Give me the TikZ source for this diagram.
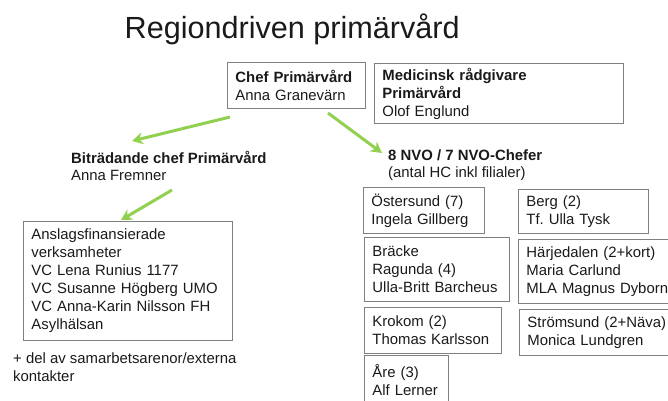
\documentclass[tikz,border=0pt]{standalone}
\usepackage{fontspec}
\setmainfont{Liberation Sans}
\usetikzlibrary{arrows.meta}
\definecolor{arrgreen}{HTML}{92D050}
\definecolor{boxgray}{HTML}{808080}
\definecolor{txtcol}{HTML}{1A1A1A}
\frenchspacing
\begin{document}
\begin{tikzpicture}[x=1pt,y=-1pt,
  txt/.style={font=\fontsize{14.9}{18}\selectfont, inner sep=0pt, anchor=base west, text=txtcol},
  orgbox/.style={draw=boxgray, line width=0.9pt, anchor=north west, inner xsep=8pt, inner ysep=0pt,
                 align=left, text=txtcol, font=\fontsize{14.9}{18}\selectfont},
  arr/.style={draw=arrgreen, line width=3pt, -{Stealth[length=11pt,width=12pt]}}]
\useasboundingbox (0,0) rectangle (668,400);

% title
\node[font=\fontsize{30.6}{36}\selectfont, anchor=base west, inner sep=0pt, text=txtcol] (title) at (124.5,38) {Regiondriven primärvård};

% top boxes
\node[orgbox, text width=122pt, minimum height=46pt] (chef) at (227,62) {\textbf{Chef Primärvård}\\Anna Granevärn};
\node[orgbox, text width=233pt, minimum height=60pt] (med) at (374,63) {\textbf{Medicinsk rådgivare}\\\textbf{Primärvård}\\Olof Englund};

% free texts
\node[txt] (bitr) at (71,163) {\textbf{Biträdande chef Primärvård}};
\node[txt] (bitrn) at (71,180) {Anna Fremner};
\node[txt] (nvo) at (388,160) {\textbf{8 NVO / 7 NVO-Chefer}};
\node[txt] (nvosub) at (388,177) {(antal HC inkl filialer)};
\node[txt] (extra1) at (13,363) {+ del av samarbetsarenor/externa};
\node[txt] (extra2) at (13,381) {kontakter};

% left box
\node[orgbox, text width=193pt, minimum height=119pt] (anslag) at (23,221)
  {Anslagsfinansierade\\verksamheter\\VC Lena Runius 1177\\VC Susanne Högberg UMO\\VC Anna-Karin Nilsson FH\\Asylhälsan};

% NVO boxes
\node[orgbox, text width=105pt, minimum height=46pt] (ost) at (363,187) {Östersund (7)\\Ingela Gillberg};
\node[orgbox, text width=114pt, minimum height=44pt] (berg) at (518,189) {Berg (2)\\Tf.\ Ulla Tysk};
\node[orgbox, text width=129pt, minimum height=64pt] (bracke) at (364,237) {Bräcke\\Ragunda (4)\\Ulla-Britt Barcheus};
\node[orgbox, text width=160pt, minimum height=64pt] (harj) at (518,239) {Härjedalen (2+kort)\\Maria Carlund\\MLA Magnus Dyborn};
\node[orgbox, text width=121pt, minimum height=46pt] (krokom) at (364,307) {Krokom (2)\\Thomas Karlsson};
\node[orgbox, text width=160pt, minimum height=46pt] (strom) at (519,309) {Strömsund (2+Näva)\\Monica Lundgren};
\node[orgbox, text width=68pt, minimum height=50pt] (are) at (364,355) {Åre (3)\\Alf Lerner};

% arrows
\coordinate (a1s) at (230,117);
\coordinate (a1e) at (132,141);
\coordinate (a2s) at (328,113);
\coordinate (a2e) at (382,153);
\coordinate (a3s) at (172,190);
\coordinate (a3e) at (121,220);
\draw[arr] (a1s) -- (a1e);
\draw[arr] (a2s) -- (a2e);
\draw[arr] (a3s) -- (a3e);
\end{tikzpicture}
\end{document}
